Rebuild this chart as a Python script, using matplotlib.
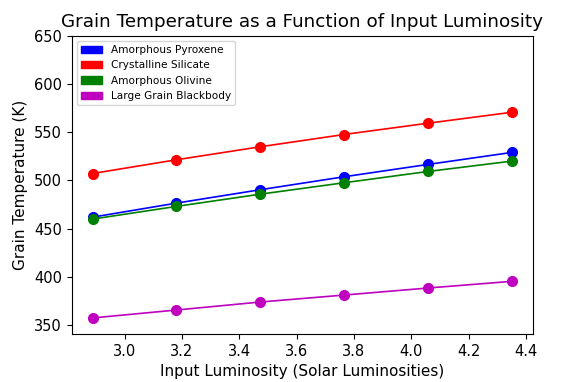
import matplotlib
matplotlib.use('Agg')
import matplotlib.pyplot as plt
import matplotlib.patches as mpatches

# input luminosity (solar luminosities)
luminosity = [2.888, 3.18, 3.473, 3.765, 4.058, 4.35]

# grain temperatures (K)
pyroxene = [462.0, 476.5, 490.4, 503.8, 516.6, 529.0]
crystalline = [507.2, 521.4, 534.9, 547.6, 559.3, 570.6]
olivine = [460.0, 473.1, 485.8, 497.6, 509.3, 520.0]
blackbody = [357.6, 365.8, 374.1, 381.3, 388.6, 395.5]

labels = ['Amorphous Pyroxene', 'Crystalline Silicate',
          'Amorphous Olivine', 'Large Grain Blackbody']
series_colors = ['b', 'r', 'g', 'm']

fig = plt.figure(figsize=(5.82, 3.82), dpi=100)
ax = fig.add_axes([0.123, 0.1257, 0.792, 0.781])

for temps, c in zip([pyroxene, crystalline, olivine, blackbody], series_colors):
    ax.plot(luminosity, temps, c + 'o-', markersize=7, linewidth=1.2)

# legend built from plain colour patches
handles = [mpatches.Patch(color=c, label=l) for c, l in zip(series_colors, labels)]
ax.legend(handles=handles, loc='upper left', fontsize=7.6)

ax.set_ylim(341, 650)
ax.set_title('Grain Temperature as a Function of Input Luminosity', fontsize=13.2)
ax.set_xlabel('Input Luminosity (Solar Luminosities)', fontsize=11)
ax.set_ylabel('Grain Temperature (K)', fontsize=11)
ax.tick_params(labelsize=10.5)

fig.savefig('out.png', dpi=100)
